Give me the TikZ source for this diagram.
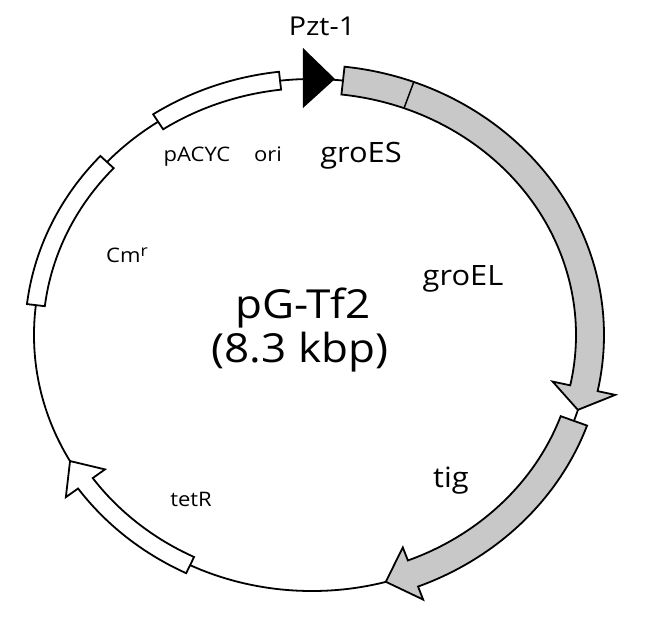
\documentclass[tikz,border=0pt]{standalone}
\usepackage{fontspec}
\setmainfont{Open Sans}[FakeStretch=1.1]
\usepackage{tikz}
\definecolor{genegray}{RGB}{200,200,200}

\begin{document}
\begin{tikzpicture}[x=1pt,y=1pt,
    backbone/.style={line width=1.8pt},
    marker/.style={draw, line width=1.8pt, fill=white},
    gene/.style={draw, line width=1.8pt, fill=genegray},
    lbl/.style={anchor=base, inner sep=0pt},
    big/.style={lbl, font=\fontsize{28}{32}\selectfont},
    small/.style={lbl, font=\fontsize{20}{24}\selectfont}]
    \useasboundingbox (-312,-290) rectangle (333,335);
    % Draw the backbone
    \draw[backbone] (0,0) ellipse[x radius=278, y radius=256];
    % Draw the white markers
    \draw[marker] (96.6:287 and 265) arc[start angle=96.6, end angle=123.6, x radius=287, y radius=265]
        -- (123.6:269 and 247) arc[start angle=123.6, end angle=96.6, x radius=269, y radius=247] -- cycle;
    \draw[marker] (137.5:287 and 265) arc[start angle=137.5, end angle=173.3, x radius=287, y radius=265]
        -- (173.3:269 and 247) arc[start angle=173.3, end angle=137.5, x radius=269, y radius=247] -- cycle;
    \draw[marker] (244:287 and 265) arc[start angle=244, end angle=215.4, x radius=287, y radius=265]
        -- (215.4:302 and 280) -- (209.5:278 and 256) -- (215.4:254 and 232)
        -- (215.4:269 and 247) arc[start angle=215.4, end angle=244, x radius=269, y radius=247] -- cycle;
    % Draw the chaperone genes
    \draw[gene] (83.6:292 and 270) arc[start angle=83.6, end angle=-12, x radius=292, y radius=270]
        -- (-12:310 and 288) -- (-17:278 and 256) -- (-12:246 and 224)
        -- (-12:264 and 242) arc[start angle=-12, end angle=83.6, x radius=264, y radius=242] -- cycle;
    \draw[line width=1.5pt] (69.6:264 and 242) -- (69.6:292 and 270);
    \draw[gene] (-19.6:292 and 270) arc[start angle=-19.6, end angle=-68.7, x radius=292, y radius=270]
        -- (-68.7:306 and 284) -- (-74.6:278 and 256) -- (-68.7:250 and 228)
        -- (-68.7:264 and 242) arc[start angle=-68.7, end angle=-19.6, x radius=264, y radius=242] -- cycle;
    % Draw the promoter
    \coordinate (ptop) at (-9,287);
    \coordinate (ptip) at (23,256);
    \coordinate (pbot) at (-9,227);
    \fill (ptop) -- (ptip) -- (pbot) -- cycle;
    % Labels
    \node[lbl, font=\fontsize{26}{30}\selectfont] (pzt) at (10,300) {Pzt-1};
    \node[small] (pacyc) at (-115,174) {pACYC};
    \node[small] (ori) at (-44,174) {ori};
    \node[big] (groes) at (49,173) {groES};
    \node[big] (groel) at (151,50) {groEL};
    \node[big] (tig) at (139,-152) {tig};
    \node[small] (tetr) at (-121,-171) {tetR};
    \node[small] (cmr) at (-185,73) {Cm\raisebox{0.3em}{\fontsize{16}{18}\selectfont r}};
    \node[lbl, font=\fontsize{40}{44}\selectfont] (name) at (-9,17) {pG-Tf2};
    \node[lbl, font=\fontsize{40}{44}\selectfont] (size) at (-12,-27) {(8.3 kbp)};
\end{tikzpicture}
\end{document}
